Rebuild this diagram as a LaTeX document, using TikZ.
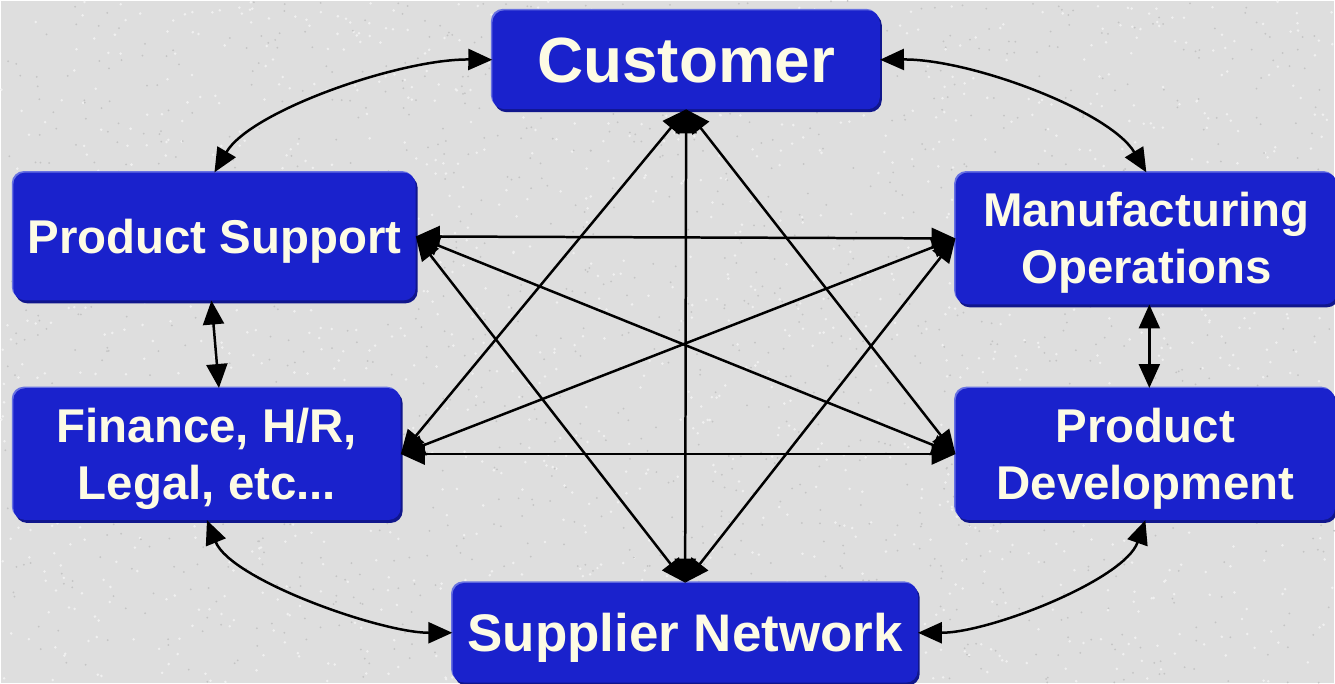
\documentclass[tikz,border=0pt]{standalone}
\usepackage{fontspec}
\setmainfont{Liberation Sans}
\usetikzlibrary{arrows.meta,shadows}
\definecolor{bg}{RGB}{222,222,222}
\definecolor{specklight}{RGB}{240,240,240}
\definecolor{speckdark}{RGB}{196,196,196}
\definecolor{boxblue}{RGB}{26,34,204}
\definecolor{boxedge}{RGB}{104,114,226}
\definecolor{boxshadow}{RGB}{16,22,140}
\definecolor{txt}{RGB}{253,251,228}
\tikzset{
  box/.style={rectangle, rounded corners=12pt, fill=boxblue, text=txt,
    font=\bfseries\fontsize{47.5}{57}\selectfont, align=center, inner sep=0pt,
    text height=34pt, text depth=0pt,
    drop shadow={shadow xshift=-1.5pt, shadow yshift=1.5pt, fill=boxedge, opacity=1},
    drop shadow={shadow xshift=2pt, shadow yshift=-3pt, fill=boxshadow, opacity=1}},
  twoline/.style={text height=91pt, text depth=0pt},
  link/.style={line width=2.5pt, {Triangle[length=24pt,width=21pt]}-{Triangle[length=24pt,width=21pt]}},
}
\begin{document}
\begin{tikzpicture}[x=1pt,y=-1pt]
\fill[bg] (0,0) rectangle (1335,683);
\pgfmathsetseed{7}
\foreach \i in {1,...,1400} {
  \fill[specklight] (rnd*1335,rnd*683) circle (1.4pt);
  \fill[speckdark] (rnd*1335,rnd*683) circle (1pt);
}
\useasboundingbox (0,0) rectangle (1335,683);

\node[box, minimum width=388pt, minimum height=99pt, text height=46pt, font=\bfseries\fontsize{64}{70}\selectfont] (C) at (686,59) {Customer};
\node[box, minimum width=403pt, minimum height=128pt] (PS) at (213.5,236) {Product Support};
\node[box, twoline, minimum width=382pt, minimum height=132pt] (M) at (1147,238) {Manufacturing\\Operations};
\node[box, twoline, minimum width=388pt, minimum height=132pt] (F) at (206,454) {Finance, H/R,\\Legal, etc...};
\node[box, twoline, minimum width=380pt, minimum height=132pt] (PD) at (1146,454) {Product\\Development};
\node[box, minimum width=466pt, minimum height=100pt, text height=38pt, font=\bfseries\fontsize{53}{60}\selectfont] (S) at (685,633) {Supplier Network};

% outer ring
\draw[link] (PS.north) .. controls (250,110) and (400,58) .. (C.west);
\draw[link] (C.east) .. controls (970,58) and (1110,110) .. (M.north);
\draw[link] (F.south) .. controls (230,580) and (380,633) .. (S.west);
\draw[link] (PD.south) .. controls (1125,580) and (990,633) .. (S.east);
\draw[link] ([xshift=-3pt]PS.south) -- ([xshift=12pt]F.north);
\draw[link] ([xshift=3pt]M.south) -- ([xshift=4pt]PD.north);

% inner star
\draw[link] (C.south) -- (S.north);
\draw[link] (C.south) -- (F.east);
\draw[link] (C.south) -- (PD.west);
\draw[link] (S.north) -- (PS.east);
\draw[link] (S.north) -- (M.west);
\draw[link] (PS.east) -- (M.west);
\draw[link] (PS.east) -- (PD.west);
\draw[link] (F.east) -- (M.west);
\draw[link] (F.east) -- (PD.west);
\end{tikzpicture}
\end{document}
